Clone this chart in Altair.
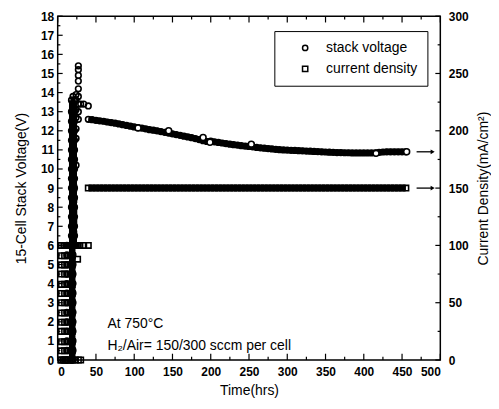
import altair as alt
import pandas as pd

# ---------------- data ----------------
# stack voltage, start-up phase (hrs, V)
v_early_t = ([12] * 13 + [18] * 28 + [20] * 28 + [22] * 16 +
             [24] * 7 + [27] * 9 + [30, 34, 40])
v_early_v = ([0.0, 0.5, 1.0, 1.5, 2.0, 2.5, 3.0, 3.5, 4.0, 4.5, 5.0, 5.5, 6.0] +
             [0.0, 0.5, 1.0, 1.5, 2.0, 2.5, 3.0, 3.5, 4.0, 4.5, 5.0, 5.5, 6.0, 6.5,
              7.0, 7.5, 8.0, 8.5, 9.0, 9.5, 10.0, 10.5, 11.0, 11.5, 12.0, 12.5, 13.0, 13.6] +
             [0.0, 0.5, 1.0, 1.5, 2.0, 2.5, 3.0, 3.5, 4.0, 4.5, 5.0, 5.5, 6.0, 6.5,
              7.0, 7.5, 8.0, 8.5, 9.0, 9.5, 10.0, 10.5, 11.0, 11.5, 12.0, 12.5, 13.2, 13.8] +
             [6.0, 6.5, 7.0, 7.5, 8.0, 8.5, 9.0, 9.5, 10.0, 10.5, 11.0, 11.5, 12.0, 12.5, 13.0, 13.6] +
             [10.2, 11.6, 12.1, 12.7, 13.1, 13.6, 13.9] +
             [12.6, 13.0, 13.4, 13.8, 14.2, 14.6, 14.9, 15.2, 15.4] +
             [13.4, 13.4, 13.3])
# columns drawn as a solid ramp in the start-up phase
ramp_cols = [18, 20, 22]

# stack voltage, steady operation (hrs, V)
v_t = [40, 45, 50, 55, 60, 65, 70, 75, 80, 85, 90, 95, 100, 105, 110, 115, 120,
       125, 130, 135, 140, 145, 150, 155, 160, 165, 170, 175, 180, 185, 190, 195,
       200, 205, 210, 215, 220, 225, 230, 235, 240, 245, 250, 255, 260, 265, 270,
       275, 280, 285, 290, 295, 300, 305, 310, 315, 320, 325, 330, 335, 340, 345,
       350, 355, 360, 365, 370, 375, 380, 385, 390, 395, 400, 405, 410, 415, 420,
       425, 430, 435, 440, 445, 450, 455]
v_v = [12.60, 12.58, 12.55, 12.52, 12.50, 12.46, 12.43, 12.40, 12.36, 12.32,
       12.28, 12.24, 12.20, 12.17, 12.14, 12.10, 12.06, 12.03, 12.00, 11.96,
       11.92, 11.88, 11.84, 11.80, 11.76, 11.72, 11.68, 11.64, 11.59, 11.54,
       11.48, 11.44, 11.46, 11.42, 11.39, 11.36, 11.33, 11.30, 11.27, 11.25,
       11.22, 11.20, 11.18, 11.16, 11.13, 11.11, 11.09, 11.07, 11.05, 11.03,
       11.01, 11.00, 10.99, 10.98, 10.97, 10.96, 10.95, 10.94, 10.93, 10.92,
       10.91, 10.90, 10.89, 10.88, 10.87, 10.86, 10.86, 10.85, 10.85, 10.84,
       10.84, 10.84, 10.84, 10.84, 10.84, 10.85, 10.87, 10.89, 10.90, 10.90,
       10.90, 10.90, 10.90, 10.90]
# isolated readings visible above the band
v_out_t = [105, 145, 190, 199, 253, 416, 456]
v_out_v = [12.15, 12.0, 11.65, 11.4, 11.3, 10.82, 10.9]

# current density (hrs, mA/cm^2)
cd_early_t = ([5] * 13 + [9] * 13 + [14] * 13 + [19] * 13 +
              [8, 11, 17, 20, 23, 26, 29, 34, 40] + [26] +
              [4, 7, 10, 13, 16, 23, 27, 30] + [21] * 6)
cd_early_v = ([0, 8, 16, 25, 33, 41, 50, 58, 66, 75, 83, 91, 100] +
              [0, 8, 16, 25, 33, 41, 50, 58, 66, 75, 83, 91, 100] +
              [0, 8, 16, 25, 33, 41, 50, 58, 66, 75, 83, 91, 100] +
              [0, 8, 16, 25, 33, 41, 50, 58, 66, 75, 83, 91, 100] +
              [100, 100, 100, 100, 100, 100, 100, 100, 100] + [88] +
              [0, 0, 0, 0, 0, 0, 0, 0] + [100, 110, 120, 130, 140, 150])
cd_t = v_t
cd_v = [150] * len(v_t)
# bar of readings at 100 mA/cm^2 during start-up
cd_bar_t = [17, 20, 23, 26, 29]
cd_bar_v = [100, 100, 100, 100, 100]

# arrows pointing to the right axis
arrow_t0, arrow_t1 = 469, 490
arrow_v = 10.9
arrow_cd = 150

x_major = list(range(0, 501, 50))
x_minor = list(range(25, 500, 50))
y_major = list(range(0, 19))
y_minor = [i + 0.5 for i in range(0, 18)]
r_major = list(range(0, 301, 50))
r_minor = list(range(25, 300, 50))

FONT = "Liberation Sans"

# ---------------- frames ----------------
df_v = pd.DataFrame({"t": v_early_t + v_t, "v": v_early_v + v_v,
                     "series": "stack voltage"})
df_vline = pd.DataFrame({"t": v_t, "v": v_v})
df_ramp = pd.DataFrame({"t": v_early_t, "v": v_early_v})
df_ramp = df_ramp[df_ramp["t"].isin(ramp_cols)]
df_vout = pd.DataFrame({"t": v_out_t, "v": v_out_v})
df_cd = pd.DataFrame({"t": cd_early_t + cd_t, "c": cd_early_v + cd_v,
                      "series": "current density"})
df_cdline = pd.DataFrame({"t": cd_t, "c": cd_v})
df_cdbar = pd.DataFrame({"t": cd_bar_t, "c": cd_bar_v})

xscale = alt.Scale(domain=[0, 500], nice=False, zero=False)
vscale = alt.Scale(domain=[0, 18], nice=False, zero=False)
cscale = alt.Scale(domain=[0, 300], nice=False, zero=False)

x_axis = alt.Axis(values=x_major, ticks=False, domain=False, grid=False,
                  labelFont=FONT, labelFontSize=12, labelFontWeight="bold",
                  labelColor="black", labelPadding=7, title="Time(hrs)",
                  titleFont=FONT, titleFontSize=14, titleFontWeight="normal",
                  titleColor="black", titlePadding=6)
v_axis = alt.Axis(values=y_major, ticks=False, domain=False, grid=False,
                  labelFont=FONT, labelFontSize=12, labelFontWeight="bold",
                  labelColor="black", labelPadding=4,
                  title="15-Cell Stack Voltage(V)", titleFont=FONT,
                  titleFontSize=14, titleFontWeight="normal", titleColor="black",
                  titlePadding=12)
c_axis = alt.Axis(values=r_major, ticks=False, domain=False, grid=False,
                  orient="right", labelFont=FONT, labelFontSize=12,
                  labelFontWeight="bold", labelColor="black", labelPadding=8,
                  title="Current Density(mA/cm²)", titleFont=FONT,
                  titleFontSize=14, titleFontWeight="normal", titleColor="black",
                  titleAngle=270, titleBaseline="top", titlePadding=8)

X = alt.X("t:Q", scale=xscale, axis=x_axis)
shape_enc = alt.Shape("series:N",
                      scale=alt.Scale(domain=["stack voltage", "current density"],
                                      range=["circle", "square"]),
                      legend=alt.Legend(title=None, orient="none", legendX=218,
                                        legendY=15, strokeColor="black",
                                        padding=10, labelFont=FONT,
                                        labelFontSize=14, labelColor="black",
                                        symbolSize=28, symbolStrokeWidth=1.5,
                                        symbolStrokeColor="black",
                                        symbolFillColor="white",
                                        symbolOffset=14, labelOffset=14,
                                        rowPadding=7))

# ---- voltage side ----
YV = alt.Y("v:Q", scale=vscale, axis=v_axis)
v_line = alt.Chart(df_vline).mark_line(color="black", strokeWidth=6).encode(
    x=X, y=YV)
v_ramp = alt.Chart(df_ramp).mark_line(color="black", strokeWidth=5).encode(
    x=X, y=YV, detail="t:N", order="v:Q")
v_pts = alt.Chart(df_v).mark_point(filled=False, color="black", size=32,
                                   strokeWidth=1.6, opacity=1).encode(
    x=X, y=YV, shape=shape_enc)
v_out = alt.Chart(df_vout).mark_point(shape="circle", fill="white", fillOpacity=1,
                                      stroke="black", size=36, strokeWidth=1.6,
                                      opacity=1).encode(x=X, y=YV)

tick_rows = (
    [{"x": t, "x2": t, "y": 0, "y2": 0.33} for t in x_major] +
    [{"x": t, "x2": t, "y": 0, "y2": 0.17} for t in x_minor] +
    [{"x": t, "x2": t, "y": 18, "y2": 17.67} for t in x_major] +
    [{"x": t, "x2": t, "y": 18, "y2": 17.83} for t in x_minor] +
    [{"x": 0, "x2": 6.5, "y": v, "y2": v} for v in y_major] +
    [{"x": 0, "x2": 3.5, "y": v, "y2": v} for v in y_minor]
)
v_ticks = alt.Chart(pd.DataFrame(tick_rows)).mark_rule(
    color="black", strokeWidth=1.2).encode(
    x=alt.X("x:Q", scale=xscale, axis=x_axis), x2="x2:Q",
    y=alt.Y("y:Q", scale=vscale, axis=v_axis), y2="y2:Q")

notes = alt.Chart(pd.DataFrame({
    "t": [65, 65], "v": [1.87, 0.73],
    "txt": ["At 750°C", "H₂/Air= 150/300 sccm per cell"]})).mark_text(
    align="left", baseline="middle", font=FONT, fontSize=14, color="black").encode(
    x=X, y=YV, text="txt:N")

arr_v = alt.Chart(pd.DataFrame({"t": [arrow_t0], "t2": [arrow_t1 - 2], "v": [arrow_v]})).mark_rule(
    color="black", strokeWidth=1.3).encode(x=X, x2="t2:Q", y=YV)
arr_vh = alt.Chart(pd.DataFrame({"t": [arrow_t1], "v": [arrow_v]})).mark_point(
    shape="triangle-right", filled=True, color="black", size=22, opacity=1).encode(
    x=X, y=YV)

left = alt.layer(v_ticks, v_line, v_ramp, v_pts, v_out, notes, arr_v, arr_vh)

# ---- current side ----
YC = alt.Y("c:Q", scale=cscale, axis=c_axis)
c_line = alt.Chart(df_cdline).mark_line(color="black", strokeWidth=6).encode(
    x=X, y=YC)
c_bar = alt.Chart(df_cdbar).mark_line(color="black", strokeWidth=5).encode(
    x=X, y=YC)
c_pts = alt.Chart(df_cd).mark_point(filled=False, color="black", size=30,
                                    strokeWidth=1.6, opacity=1).encode(
    x=X, y=YC, shape=shape_enc)
rt_rows = ([{"x": 500, "x2": 493.5, "y": c, "y2": c} for c in r_major] +
           [{"x": 500, "x2": 496.5, "y": c, "y2": c} for c in r_minor])
c_ticks = alt.Chart(pd.DataFrame(rt_rows)).mark_rule(
    color="black", strokeWidth=1.2).encode(
    x=alt.X("x:Q", scale=xscale, axis=x_axis), x2="x2:Q",
    y=alt.Y("y:Q", scale=cscale, axis=c_axis), y2="y2:Q")
arr_c = alt.Chart(pd.DataFrame({"t": [arrow_t0], "t2": [arrow_t1 - 2], "c": [arrow_cd]})).mark_rule(
    color="black", strokeWidth=1.3).encode(x=X, x2="t2:Q", y=YC)
arr_ch = alt.Chart(pd.DataFrame({"t": [arrow_t1], "c": [arrow_cd]})).mark_point(
    shape="triangle-right", filled=True, color="black", size=22, opacity=1).encode(
    x=X, y=YC)

right = alt.layer(c_ticks, c_line, c_bar, c_pts, arr_c, arr_ch)

chart = alt.layer(left, right).resolve_scale(y="independent").properties(
    width=385, height=346,
    padding={"left": 6, "top": 1, "right": 0, "bottom": 0},
    background="white",
).configure_view(stroke="black", strokeWidth=1.5)

chart.save("out.html", embed_options={"renderer": "svg", "actions": False})
